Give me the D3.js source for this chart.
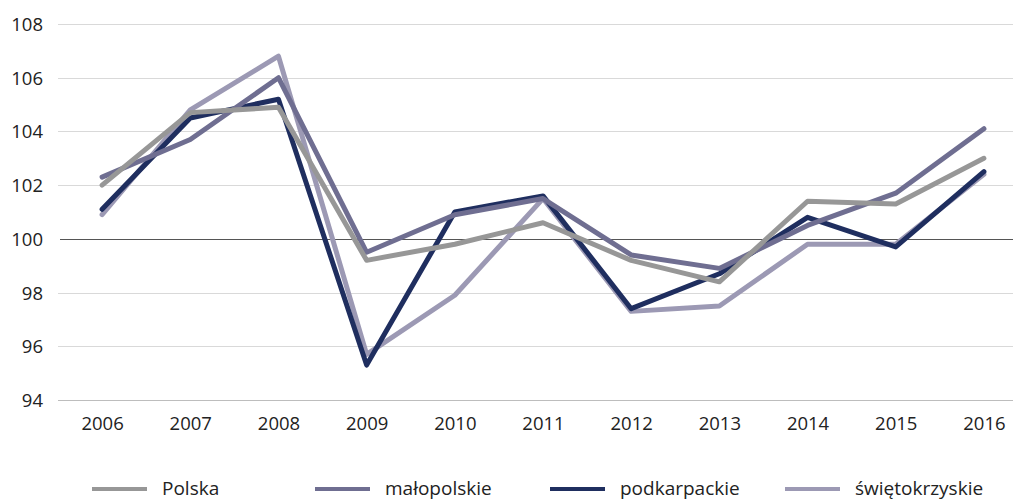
<!DOCTYPE html>
<html>
<head>
<meta charset="utf-8">
<script src="https://cdn.jsdelivr.net/npm/d3@7"></script>
<style>
  html, body { margin: 0; padding: 0; background: #fff; }
  svg { display: block; font-family: "Open Sans", "Noto Sans", sans-serif; }
</style>
</head>
<body>
<svg id="chart" width="1013" height="500"></svg>
<script>
// Years on the horizontal axis
const years = ["2006","2007","2008","2009","2010","2011","2012","2013","2014","2015","2016"];
// Value ticks
const yTicks = [94, 96, 98, 100, 102, 104, 106, 108];

// Index values per region (previous year = 100)
const polska         = [102.0, 104.7, 104.9, 99.2, 99.8, 100.6, 99.2, 98.4, 101.4, 101.3, 103.0];
const malopolskie    = [102.3, 103.7, 106.0, 99.5, 100.9, 101.5, 99.4, 98.9, 100.5, 101.7, 104.1];
const podkarpackie   = [101.1, 104.5, 105.2, 95.3, 101.0, 101.6, 97.4, 98.7, 100.8, 99.7, 102.5];
const swietokrzyskie = [100.9, 104.8, 106.8, 95.7, 97.9, 101.5, 97.3, 97.5, 99.8, 99.8, 102.4];

const seriesNames = ["Polska", "małopolskie", "podkarpackie", "świętokrzyskie"];
const seriesValues = [polska, malopolskie, podkarpackie, swietokrzyskie];
const seriesColors = ["#979797", "#6f6e91", "#1f2e5f", "#9c99b4"];

const svg = d3.select("#chart");

const x = d3.scalePoint().domain(years).range([58, 1028]).padding(0.5);
const y = d3.scaleLinear().domain([94, 108]).range([400, 24]);

// Horizontal grid
svg.append("g").selectAll("line")
  .data(yTicks)
  .join("line")
  .attr("x1", d => d === 100 ? 60 : 58)
  .attr("x2", 1013)
  .attr("y1", d => Math.round(y(d)) + 0.5)
  .attr("y2", d => Math.round(y(d)) + 0.5)
  .attr("stroke", d => d === 100 ? "#555" : (d === 94 ? "#bdbdbd" : "#d9d9d9"))
  .attr("stroke-width", 1);

// Y axis labels
const yAxis = d3.axisLeft(y).tickValues(yTicks).tickSize(0).tickPadding(0);
const gy = svg.append("g").attr("transform", "translate(43,0)").call(yAxis);
gy.select(".domain").remove();
gy.selectAll("text")
  .attr("font-family", "'Open Sans', sans-serif")
  .attr("font-size", 18.5)
  .attr("fill", "#222")
  .attr("dy", "0.35em");

// X axis labels
const xAxis = d3.axisBottom(x).tickSize(0).tickPadding(0);
const gx = svg.append("g").attr("transform", "translate(0,424)").call(xAxis);
gx.select(".domain").remove();
gx.selectAll("text")
  .attr("font-family", "'Open Sans', sans-serif")
  .attr("font-size", 18.5)
  .attr("fill", "#222")
  .attr("y", 0)
  .attr("dy", "0.35em");

// Lines (last series drawn first so Polska sits on top)
const line = d3.line()
  .x((d, i) => x(years[i]))
  .y(d => y(d));

const order = [3, 2, 1, 0];
svg.append("g").selectAll("path")
  .data(order)
  .join("path")
  .attr("d", k => line(seriesValues[k]))
  .attr("fill", "none")
  .attr("stroke", k => seriesColors[k])
  .attr("stroke-width", 5)
  .attr("stroke-linejoin", "round")
  .attr("stroke-linecap", "round");

// Legend
const legendX = [92, 315, 550, 785];
const leg = svg.append("g").selectAll("g")
  .data(seriesNames)
  .join("g")
  .attr("transform", (d, i) => `translate(${legendX[i]},489)`);
leg.append("line")
  .attr("x1", 0).attr("x2", 55)
  .attr("y1", 0).attr("y2", 0)
  .attr("stroke", (d, i) => seriesColors[i])
  .attr("stroke-width", 4);
leg.append("text")
  .attr("x", 70)
  .attr("y", -1)
  .attr("dy", "0.35em")
  .attr("font-size", 19)
  .attr("fill", "#222")
  .text(d => d);
</script>
</body>
</html>
